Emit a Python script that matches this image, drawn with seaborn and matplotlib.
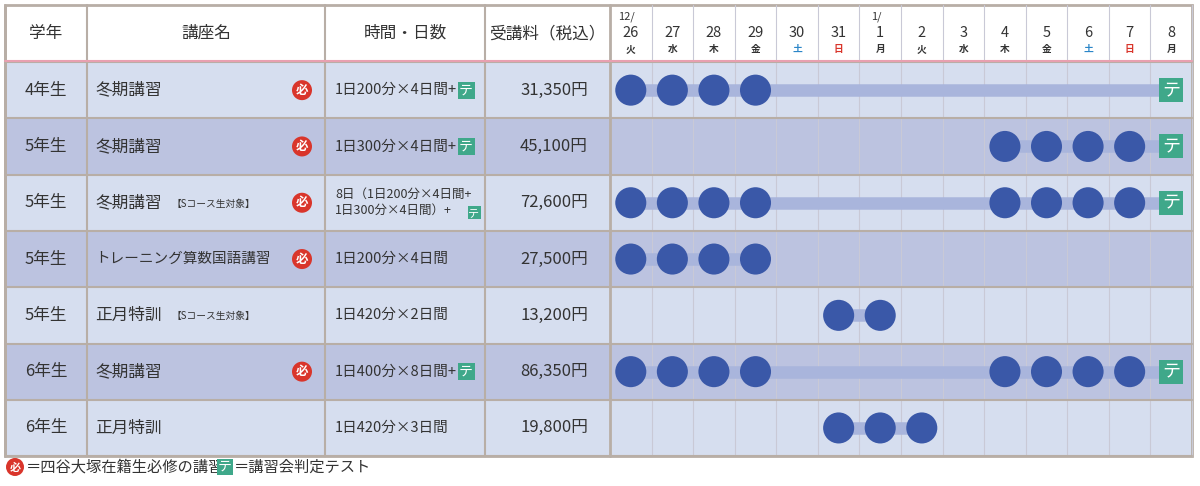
import matplotlib
matplotlib.use('Agg')
import matplotlib.pyplot as plt
import seaborn as sns
import pandas as pd
from matplotlib.patches import Rectangle, Circle

# data
grades = ['4年生', '5年生', '5年生', '5年生', '5年生', '6年生', '6年生']
courses = ['冬期講習', '冬期講習', '冬期講習', 'トレーニング算数国語講習', '正月特訓', '冬期講習', '正月特訓']
course_notes = ['', '', '【Sコース生対象】', '', '【Sコース生対象】', '', '']
required = [True, True, True, True, False, True, False]
times = ['1日200分×4日間+', '1日300分×4日間+', '8日（1日200分×4日間+\n1日300分×4日間）+',
         '1日200分×4日間', '1日420分×2日間', '1日400分×8日間+', '1日420分×3日間']
fees = ['31,350円', '45,100円', '72,600円', '27,500円', '13,200円', '86,350円', '19,800円']
has_test = [True, True, True, False, False, True, False]
class_days = [[0, 1, 2, 3], [9, 10, 11, 12], [0, 1, 2, 3, 9, 10, 11, 12], [0, 1, 2, 3],
              [5, 6], [0, 1, 2, 3, 9, 10, 11, 12], [5, 6, 7]]
month_marks = ['12/', '', '', '', '', '', '1/', '', '', '', '', '', '', '']
day_nums = ['26', '27', '28', '29', '30', '31', '1', '2', '3', '4', '5', '6', '7', '8']
weekdays = ['火', '水', '木', '金', '土', '日', '月', '火', '水', '木', '金', '土', '日', '月']
headers = ['学年', '講座名', '時間・日数', '受講料（税込）']

TEST_DAY = 13
DOT = '#3a58a8'
LINE = '#a9b5dc'
GREEN = '#3fa88a'
RED = '#d9352b'
ROW_COLORS = ['#d6deef', '#bcc3e0']
GRID = '#b8aea6'

sns.set_theme(style='white')
plt.rcParams['font.family'] = ['Noto Sans CJK JP', 'DejaVu Sans']

fig = plt.figure(figsize=(12, 4.86), dpi=100)
ax = fig.add_axes([0, 0, 1, 1])

col_x = [5, 87, 325, 485, 610]
day_w = (1192 - 610) / 14
right = 1192
top, head_h, row_h = 5, 57, 56.3

def day_x(i):
    return col_x[4] + day_w * (i + 0.5)

# header
ax.add_patch(Rectangle((col_x[0], top), right - col_x[0], head_h, fc='white', ec='none'))
for i, h in enumerate(headers):
    ax.text((col_x[i] + col_x[i + 1]) / 2, top + head_h / 2, h, ha='center', va='center',
            fontsize=12, color='#333333')
for i in range(14):
    cx = day_x(i)
    if month_marks[i]:
        ax.text(cx - 4, top + 12, month_marks[i], ha='center', va='center', fontsize=8, color='#333333')
    ax.text(cx, top + 28, day_nums[i], ha='center', va='center', fontsize=10.5, color='#333333')
    wc = '#2b86c8' if weekdays[i] == '土' else (RED if weekdays[i] == '日' else '#333333')
    ax.text(cx, top + 44, weekdays[i], ha='center', va='center', fontsize=7, color=wc,
            fontweight='bold')
ax.plot([col_x[0], right], [top + head_h - 1, top + head_h - 1], color='#e8a0b0', lw=1.5)

def test_box(x, y, s=16, fs=10):
    ax.add_patch(Rectangle((x - s / 2, y - s / 2), s, s, fc=GREEN, ec='none', zorder=4))
    ax.text(x, y, 'テ', ha='center', va='center', color='white', fontsize=fs, zorder=5)

def must_mark(x, y, r=10, fs=9):
    ax.add_patch(Circle((x, y), r, fc=RED, ec='none'))
    ax.text(x, y, '必', ha='center', va='center', color='white', fontsize=fs, fontweight='bold')

rows = []
for r in range(len(grades)):
    y0 = top + head_h + r * row_h
    cy = y0 + row_h / 2
    ax.add_patch(Rectangle((col_x[0], y0), right - col_x[0], row_h, fc=ROW_COLORS[r % 2], ec='none'))
    ax.text((col_x[0] + col_x[1]) / 2, cy, grades[r], ha='center', va='center', fontsize=12, color='#333333')
    fs = 10.5 if len(courses[r]) > 8 else 12
    ax.text(col_x[1] + 8, cy, courses[r], ha='left', va='center', fontsize=fs, color='#333333')
    if course_notes[r]:
        ax.text(col_x[1] + 84, cy + 1, course_notes[r], ha='left', va='center',
                fontsize=7, color='#333333')
    if required[r]:
        must_mark(302, cy)
    two = '\n' in times[r]
    ax.text(col_x[2] + 10, cy, times[r], ha='left', va='center', fontsize=9 if two else 10.5,
            color='#333333', linespacing=1.3)
    if has_test[r]:
        if two:
            test_box(474, cy + 10, s=13, fs=8)
        else:
            test_box(466, cy, s=17)
    ax.text(col_x[4] - 22, cy, fees[r], ha='right', va='center', fontsize=12, color='#333333')

    days = class_days[r]
    end = TEST_DAY if has_test[r] else max(days)
    ax.plot([day_x(min(days)), day_x(end)], [cy, cy], color=LINE, lw=9, solid_capstyle='butt', zorder=2)
    if has_test[r]:
        test_box(day_x(TEST_DAY), cy, s=24, fs=13)
    for d in days:
        rows.append({'x': day_x(d), 'y': cy})

dots = pd.DataFrame(rows)
sns.scatterplot(data=dots, x='x', y='y', ax=ax, s=500, color=DOT, edgecolor='none', zorder=3)
ax.set_xlim(0, 1200)
ax.set_ylim(486, 0)
ax.axis('off')

# grid
bottom = top + head_h + len(grades) * row_h
for x in col_x:
    ax.plot([x, x], [top, bottom], color=GRID, lw=2 if x in (col_x[0], col_x[4]) else 1.5, zorder=1.5)
for i in range(1, 15):
    x = col_x[4] + day_w * i
    ax.plot([x, x], [top, bottom], color='#c9c9d6', lw=0.8, zorder=1.5)
for r in range(len(grades) + 1):
    y = top + head_h + r * row_h
    ax.plot([col_x[0], right], [y, y], color=GRID, lw=1.5, zorder=1.5)
ax.add_patch(Rectangle((col_x[0], top), right - col_x[0], bottom - top, fc='none', ec=GRID, lw=2))

# legend
ly = 467
must_mark(15, ly, r=9, fs=8)
ax.text(26, ly, '＝四谷大塚在籍生必修の講習', ha='left', va='center', fontsize=11, color='#333333')
test_box(225, ly, s=16)
ax.text(234, ly, '＝講習会判定テスト', ha='left', va='center', fontsize=11, color='#333333')

fig.savefig('out.png', dpi=100)
